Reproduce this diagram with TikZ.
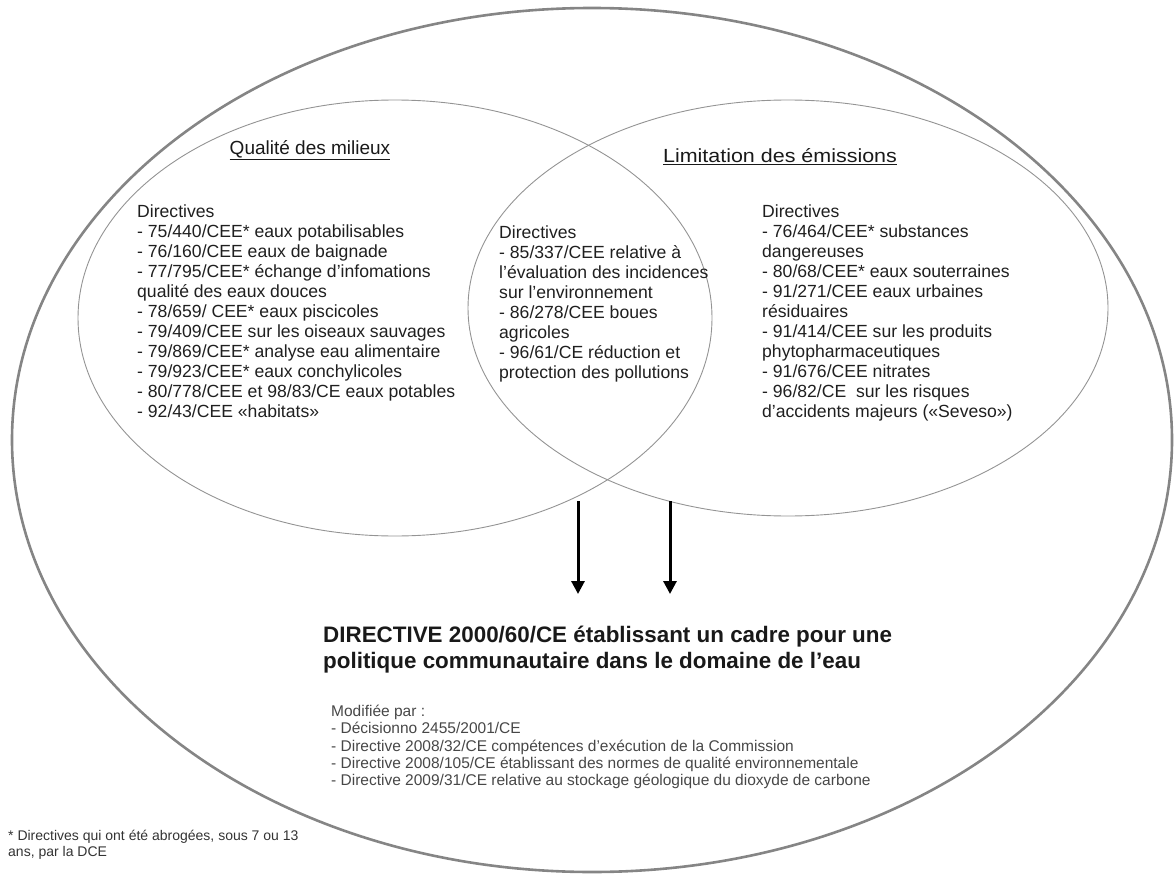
\documentclass[tikz,border=0pt]{standalone}
\usepackage{fontspec}
\setmainfont{Liberation Sans}
\usetikzlibrary{arrows.meta}
\begin{document}
\begin{tikzpicture}[x=1pt,y=-1pt,
  outerline/.style={draw=black!48,line width=2.6pt},
  innerline/.style={draw=black!42,line width=0.9pt},
  blocktext/.style={anchor=north west,align=left,inner sep=0pt,text=black!88,font=\fontsize{17.6}{20}\selectfont},
  titletext/.style={anchor=center,inner sep=0pt,text=black!90,font=\fontsize{19}{22}\selectfont},
  maintitle/.style={anchor=north west,align=left,inner sep=0pt,text=black!90,font=\fontsize{22.4}{26}\selectfont\bfseries},
  modtext/.style={anchor=north west,align=left,inner sep=0pt,text=black!72,font=\fontsize{15.5}{17.2}\selectfont},
  foottext/.style={anchor=north west,align=left,inner sep=0pt,text=black!80,font=\fontsize{14}{15.5}\selectfont},
  bigarrow/.style={line width=3pt,-{Triangle[width=13pt,length=13pt]}}]
\useasboundingbox (0,0) rectangle (1175,880);
% ellipses
\draw[outerline] (592,440) ellipse [x radius=580, y radius=432];
\draw[innerline] (395,318) ellipse [x radius=317, y radius=218];
\draw[innerline] (788,308) ellipse [x radius=320, y radius=208];
% titles
\node[titletext] (tq) at (310,150) {\underline{Qualité des milieux}};
\node[titletext] (tl) at (780,157) {\scalebox{1.13}[1]{\underline{Limitation des émissions}}};
% blocks
\node[blocktext] (bl) at (137,205) {Directives\\
- 75/440/CEE* eaux potabilisables\\
- 76/160/CEE eaux de baignade\\
- 77/795/CEE* échange d'infomations\\
qualité des eaux douces\\
- 78/659/ CEE* eaux piscicoles\\
- 79/409/CEE sur les oiseaux sauvages\\
- 79/869/CEE* analyse eau alimentaire\\
- 79/923/CEE* eaux conchylicoles\\
- 80/778/CEE et 98/83/CE eaux potables\\
- 92/43/CEE «habitats»};
\node[blocktext] (bc) at (499,226) {Directives\\
- 85/337/CEE relative à\\
l'évaluation des incidences\\
sur l'environnement\\
- 86/278/CEE boues\\
agricoles\\
- 96/61/CE réduction et\\
protection des pollutions};
\node[blocktext] (br) at (762,205) {Directives\\
- 76/464/CEE* substances\\
dangereuses\\
- 80/68/CEE* eaux souterraines\\
- 91/271/CEE eaux urbaines\\
résiduaires\\
- 91/414/CEE sur les produits\\
phytopharmaceutiques\\
- 91/676/CEE nitrates\\
- 96/82/CE\ \ sur les risques\\
d'accidents majeurs («Seveso»)};
% arrows
\coordinate (a1s) at (578,501);
\coordinate (a1e) at (578,594);
\coordinate (a2s) at (670,501);
\coordinate (a2e) at (670,594);
\draw[bigarrow] (a1s) -- (a1e);
\draw[bigarrow] (a2s) -- (a2e);
% main title
\node[maintitle] (mt) at (323,626) {DIRECTIVE 2000/60/CE établissant un cadre pour une\\
politique communautaire dans le domaine de l'eau};
\node[modtext] (md) at (331,705) {Modifiée par :\\
- Décisionno 2455/2001/CE\\
- Directive 2008/32/CE compétences d'exécution de la Commission\\
- Directive 2008/105/CE établissant des normes de qualité environnementale\\
- Directive 2009/31/CE relative au stockage géologique du dioxyde de carbone};
\node[foottext] (fn) at (8,830) {* Directives qui ont été abrogées, sous 7 ou 13\\
ans, par la DCE};
\end{tikzpicture}
\end{document}
